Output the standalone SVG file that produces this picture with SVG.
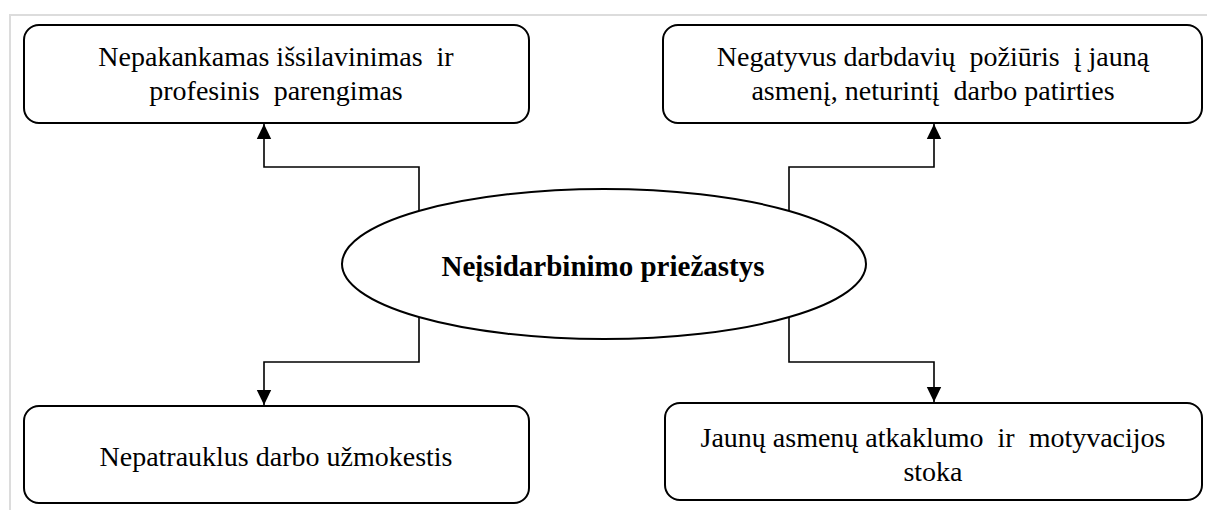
<svg xmlns="http://www.w3.org/2000/svg" width="1207" height="510" viewBox="0 0 1207 510">
  <style>
    .frame { fill: none; stroke: #dcdcdc; stroke-width: 2; }
    .box { fill: #ffffff; stroke: #000000; stroke-width: 2; }
    .label { font-size: 28px; fill: #000000; text-anchor: middle; white-space: pre; }
    .title { font-size: 29px; font-weight: bold; fill: #000000; text-anchor: middle; }
    .link { fill: none; stroke: #000000; stroke-width: 1.6; }
  </style>
  <defs>
    <marker id="arrow" markerUnits="userSpaceOnUse" markerWidth="16" markerHeight="16" viewBox="0 0 16 16" refX="15" refY="8" orient="auto">
      <path d="M0,0.8 L15,8 L0,15.2 Z" fill="#000000"/>
    </marker>
  </defs>

  <rect width="1207" height="510" fill="#ffffff"/>
  <!-- page frame -->
  <path class="frame" d="M10,510 V15 H1207"/>

  <!-- connectors -->
  <g id="connectors">
    <path class="link" d="M419,211 V167 H264 V124" marker-end="url(#arrow)"/>
    <path class="link" d="M789,211 V167 H934 V124" marker-end="url(#arrow)"/>
    <path class="link" d="M419,317 V362 H264 V405" marker-end="url(#arrow)"/>
    <path class="link" d="M789,317 V362 H934 V402" marker-end="url(#arrow)"/>
  </g>

  <g font-family="'Liberation Serif', 'Times New Roman', 'DejaVu Serif', serif">
    <g id="node-education">
      <rect class="box" x="24" y="25" width="505" height="98" rx="15" ry="15"/>
      <text class="label" x="276" y="66">Nepakankamas išsilavinimas  ir</text>
      <text class="label" x="276" y="100">profesinis  parengimas</text>
    </g>

    <g id="node-employers">
      <rect class="box" x="663" y="25" width="539" height="98" rx="15" ry="15"/>
      <text class="label" x="933" y="66">Negatyvus darbdavių  požiūris  į jauną</text>
      <text class="label" x="933" y="100">asmenį, neturintį  darbo patirties</text>
    </g>

    <g id="node-salary">
      <rect class="box" x="24" y="406" width="505" height="97" rx="15" ry="15"/>
      <text class="label" x="276" y="466">Nepatrauklus darbo užmokestis</text>
    </g>

    <g id="node-motivation">
      <rect class="box" x="665" y="403" width="537" height="97" rx="15" ry="15"/>
      <text class="label" x="933" y="447">Jaunų asmenų atkaklumo  ir  motyvacijos</text>
      <text class="label" x="933" y="481">stoka</text>
    </g>

    <!-- central cause node -->
    <g id="node-center">
      <ellipse class="box" cx="604" cy="264" rx="262" ry="75"/>
      <text class="title" x="603" y="276">Neįsidarbinimo priežastys</text>
    </g>
  </g>
</svg>
